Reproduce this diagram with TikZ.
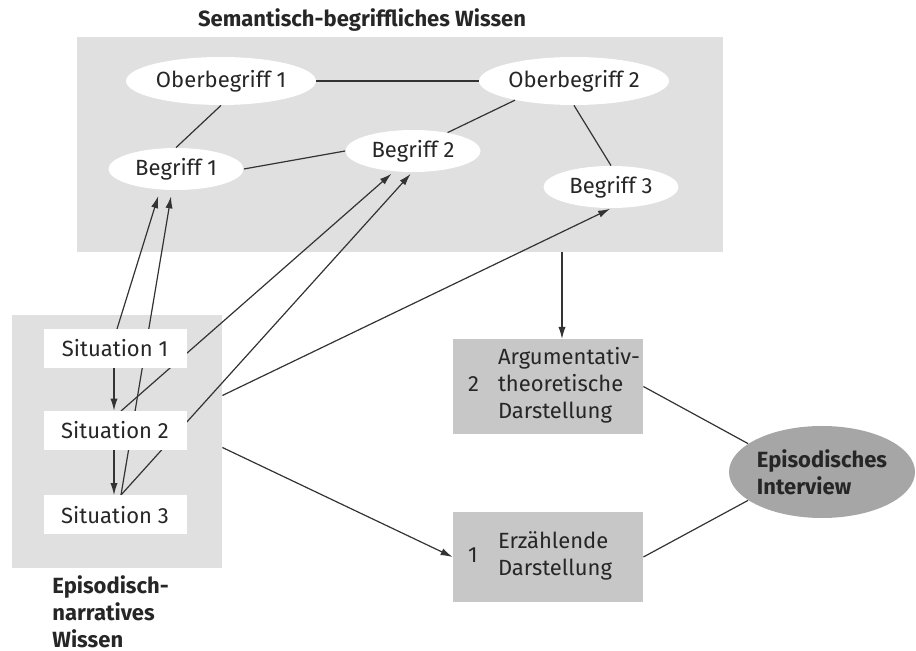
\documentclass[tikz,border=0pt]{standalone}
\usepackage{fontspec}
\setmainfont{Fira Sans}
\usepackage{tikz}
\usetikzlibrary{
    calc,
    positioning,
    shapes,
    arrows.meta%
}
\newcommand{\diafont}{\fontsize{11}{13.5}\selectfont}
\tikzset{
    >={Latex[length=6pt,width=3.6pt]},
    % Knowledge areas
    area/.style={
        fill=black!12,
        draw=none,
        inner sep=0pt
    },
    areaName/.style={
        font=\diafont\bfseries,
        text=black!85,
        align=left,
        inner sep=0pt
    },
    % Concepts
    concept/.style={
        ellipse,
        fill=white,
        draw=none,
        font=\diafont,
        text=black!85,
        minimum width=95pt,
        minimum height=24pt,
        inner sep=0pt
    },
    subConcept/.style={
        concept,
        minimum width=67.5pt,
        minimum height=21pt
    },
    % Situations
    situation/.style={
        rectangle,
        fill=white,
        font=\diafont,
        text=black!85,
        minimum width=71.5pt,
        minimum height=19.5pt,
        inner sep=0pt
    },
    % Forms of presentation
    mode/.style={
        rectangle,
        fill=black!22,
        font=\diafont,
        text=black!85,
        align=left,
        text width=80pt,
        minimum height=45pt,
        inner xsep=7.5pt
    },
    interview/.style={
        ellipse,
        fill=black!35,
        font=\diafont\bfseries,
        text=black!85,
        align=left,
        minimum width=93pt,
        minimum height=46pt,
        inner sep=0pt
    },
    link/.style={
        draw=black!80,
        line width=0.6pt
    }
}

\begin{document}
\begin{tikzpicture}[x=0.5pt,y=-0.5pt]
    \useasboundingbox (0,0) rectangle (916,651);

    % areas
    \node[area, minimum width=323pt, minimum height=107.5pt] (sem) at (400,144.5) {};
    \node[area, minimum width=105pt, minimum height=126.5pt] (epi) at (117,441.5) {};
    \node[areaName] (semName) at (362,20) {Semantisch-begriffliches Wissen};
    \node[areaName, anchor=north west] (epiName) at (52,575) {Episodisch-\\narratives\\Wissen};

    % concepts
    \node[concept] (ob1) at (221,81) {Oberbegriff 1};
    \node[concept] (ob2) at (574,81) {Oberbegriff 2};
    \node[subConcept] (b1) at (176,169) {Begriff 1};
    \node[subConcept] (b2) at (413,151) {Begriff 2};
    \node[subConcept] (b3) at (611,187) {Begriff 3};

    \draw[link] (ob1.east) -- (ob2.west);
    \draw[link] (ob1.south) -- (b1.north);
    \draw[link] (b1.east) -- (b2.west);
    \draw[link] (ob2.198) -- (b2.28);
    \draw[link] (ob2.south) -- (b3.north);

    % links from situations (below the white boxes)
    \coordinate (s1top) at (117,329);
    \coordinate (s2top) at (121,411);
    \coordinate (s3top) at (121,495);
    \draw[link,->,shorten >=3pt] (s1top) -- ([xshift=-8pt]b1.south);
    \draw[link,->,shorten >=3pt] (s3top) -- ([xshift=-2pt]b1.south);
    \draw[link,->,shorten >=1pt] (s2top) -- ([xshift=-10pt]b2.south);
    \draw[link,->,shorten >=1pt] (s3top) -- ([xshift=-0.5pt]b2.south);

    % situations
    \node[situation] (sit1) at (115,348.5) {Situation 1};
    \node[situation] (sit2) at (115,430.5) {Situation 2};
    \node[situation] (sit3) at (115,515) {Situation 3};

    \draw[link,->] ([xshift=-0.5pt]sit1.south) -- ([xshift=-0.5pt]sit2.north);
    \draw[link,->] ([xshift=-0.5pt]sit2.south) -- ([xshift=-0.5pt]sit3.north);

    \draw[link,->,shorten >=0.5pt] ([yshift=23pt]epi.east) -- (b3.south);

    % forms of presentation
    \node[mode] (arg) at (548,386.5) {\makebox[15pt][l]{2}\begin{tabular}[c]{@{}l@{}}Argumentativ-\\theoretische\\Darstellung\end{tabular}};
    \node[mode] (erz) at (548,557) {\makebox[15pt][l]{1}\begin{tabular}[c]{@{}l@{}}Erzählende\\Darstellung\end{tabular}};
    \node[interview] (epint) at (822,472) {Episodisches\\Interview};

    \draw[link,->] ([xshift=7pt]arg.north |- sem.south) -- ([xshift=7pt]arg.north);
    \draw[link,->] ([yshift=-3pt]epi.east) -- (erz.west);
    \draw[link] (arg.east) -- (epint.159);
    \draw[link] (erz.east) -- (epint.201);

\end{tikzpicture}
\end{document}
